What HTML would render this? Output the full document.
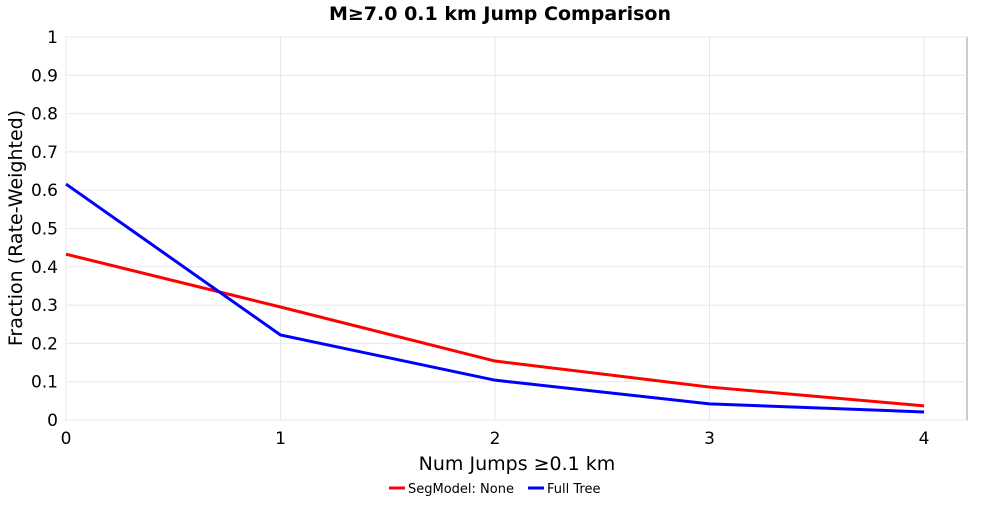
<!DOCTYPE html>
<html><head><meta charset="utf-8"><style>
body{margin:0;background:#fff;font-family:"Liberation Sans","DejaVu Sans",sans-serif;}
</style></head><body>
<svg width="1000" height="500" xmlns="http://www.w3.org/2000/svg" id="chart" font-family="DejaVu Sans, Liberation Sans, sans-serif">
<text x="500" y="20" text-anchor="middle" font-size="19" font-weight="bold">M≥7.0 0.1 km Jump Comparison</text>
<rect x="66" y="37" width="901" height="383" fill="#fff" stroke="#999"/>
<g id="grid"></g><g id="ticks"></g><g id="lines"></g>
<text x="517" y="470" text-anchor="middle" font-size="19">Num Jumps ≥0.1 km</text>
<text transform="translate(22,228) rotate(-90)" text-anchor="middle" font-size="19">Fraction (Rate-Weighted)</text>
<g>
<line x1="389" y1="488" x2="405" y2="488" stroke="#f00" stroke-width="3"/>
<text x="408" y="493" font-size="13">SegModel: None</text>
<line x1="528" y1="488" x2="544" y2="488" stroke="#00f" stroke-width="3"/>
<text x="547" y="493" font-size="13">Full Tree</text>
</g>
</svg>
<script>
const categories=[0,1,2,3,4];
const segModelValues=[0.433,0.295,0.154,0.086,0.037];
const fullTreeValues=[0.616,0.222,0.104,0.042,0.021];
const yTicks=[0,0.1,0.2,0.3,0.4,0.5,0.6,0.7,0.8,0.9,1];
const xTicks=[0,1,2,3,4];
const NS="http://www.w3.org/2000/svg";
const X=v=>66+v*214.5, Y=v=>420-v*383;
function mk(t,a,p){const e=document.createElementNS(NS,t);for(const k in a)e.setAttribute(k,a[k]);document.getElementById(p).appendChild(e);return e;}
yTicks.forEach(t=>{
 const g=mk('line',{x1:66,x2:967,y1:Y(t),y2:Y(t),stroke:'#e8e8e8'},'grid');
 
 
 const l=mk('text',{x:58,y:Y(t)+6,'text-anchor':'end','font-size':17},'ticks');
 l.textContent=String(t);
 
 
});
xTicks.forEach(t=>{
 const g=mk('line',{x1:X(t),x2:X(t),y1:37,y2:420,stroke:'#e8e8e8'},'grid');
 
 
 const l=mk('text',{x:X(t),y:444,'text-anchor':'middle','font-size':17},'ticks');
 l.textContent=String(t);
 
 
});
function line(vals,color,name){
 const p=mk('polyline',{points:vals.map((v,i)=>X(categories[i])+','+Y(v)).join(' '),fill:'none',stroke:color,'stroke-width':3},'lines');
 
 
}
line(segModelValues,'#f00','segmodel-line');
line(fullTreeValues,'#00f','fulltree-line');
</script>
</body></html>
